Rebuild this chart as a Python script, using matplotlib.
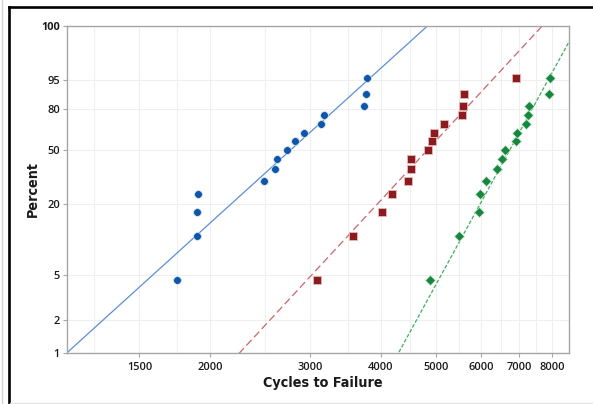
"""Weibull probability plot of cycles to failure for three groups."""

import numpy as np
import matplotlib

matplotlib.use("Agg")
from matplotlib import pyplot as plt  # noqa: E402
from matplotlib import ticker  # noqa: E402
from matplotlib.lines import Line2D  # noqa: E402

# plotting positions (percent) shared by the three groups of 15 specimens
percent = [4.5, 11.0, 17.5, 24.0, 30.5, 37.0, 43.5, 50.0,
           56.5, 63.0, 69.5, 76.0, 82.5, 89.0, 95.5]

cycles_a = [1750, 1898, 1898, 1903, 2485, 2605, 2620, 2728,
            2825, 2930, 3141, 3176, 3739, 3760, 3780]
cycles_b = [3090, 3567, 4023, 4179, 4458, 4524, 4524, 4841,
            4914, 4967, 5160, 5551, 5581, 5604, 6928]
cycles_c = [4881, 5498, 5964, 5981, 6128, 6396, 6549, 6629,
            6928, 6947, 7199, 7258, 7295, 7915, 7937]

# fitted Weibull parameters (shape, scale) for each group
fit_shape = [4.65, 5.54, 9.36]
fit_scale = [3000, 5160, 7015]

x_ticks = [1500, 2000, 3000, 4000, 5000, 6000, 7000, 8000]
x_minor = [1250, 1750, 2500, 3500, 4500, 5500, 6500, 7500]
y_ticks = [1, 2, 5, 20, 50, 80, 95, 99.99]
y_labels = ["1", "2", "5", "20", "50", "80", "95", "100"]

_MARKER_COLORS = ["#0d56a8", "#8c1b1f", "#16883c"]
_LINE_COLORS = ["#5b8fd6", "#c96663", "#3fae5c"]
_GRID_COLOR = "#efefef"
_SPINE_COLOR = "#a6a6a6"
_TICK_FONT = "Open Sans"
_LABEL_FONT = "DejaVu Sans"


def _weibull_fwd(p):
    p = np.clip(np.asarray(p, dtype=float), 1e-6, 100 - 1e-6)
    return np.log(-np.log(1 - p / 100.0))


def _weibull_inv(y):
    return 100.0 * (1 - np.exp(-np.exp(np.asarray(y, dtype=float))))


fig = plt.figure(figsize=(5.93, 4.04), dpi=100, facecolor="white")
ax = fig.add_axes([0.1125, 0.1255, 0.8476, 0.8109])
ax.set_xscale("log")
ax.set_yscale("function", functions=(_weibull_fwd, _weibull_inv))
ax.set_xlim(1117, 8592)
ax.set_ylim(1, 99.99)

# fitted lines
p_line = np.linspace(0.5, 99.995, 400)
styles = ["-", (0, (6, 3)), (0, (3, 1.5))]
for shape, scale, color, ls in zip(fit_shape, fit_scale, _LINE_COLORS, styles):
    x_line = scale * (-np.log(1 - p_line / 100.0)) ** (1.0 / shape)
    ax.plot(x_line, p_line, color=color, linewidth=0.9, linestyle=ls, zorder=2)

ax.plot(cycles_a, percent, linestyle="none", marker="o", markersize=5.6,
        color=_MARKER_COLORS[0], markeredgecolor="#dbe6f4", markeredgewidth=0.5, zorder=3)
ax.plot(cycles_b, percent, linestyle="none", marker="s", markersize=5.4,
        color=_MARKER_COLORS[1], markeredgecolor="#e6b9b9", markeredgewidth=0.6, zorder=3)
ax.plot(cycles_c, percent, linestyle="none", marker="D", markersize=5.0,
        color=_MARKER_COLORS[2], markeredgecolor="#c9e6d2", markeredgewidth=0.5, zorder=3)

ax.set_xticks(x_ticks)
ax.set_xticklabels([str(v) for v in x_ticks])
ax.set_xticks(x_minor, minor=True)
ax.xaxis.set_minor_formatter(ticker.NullFormatter())
ax.set_yticks(y_ticks)
ax.set_yticklabels(y_labels)
ax.yaxis.set_minor_locator(ticker.NullLocator())

ax.grid(True, which="both", color=_GRID_COLOR, linewidth=0.8)
ax.set_axisbelow(True)
ax.tick_params(axis="both", which="major", length=3, width=0.8, color=_SPINE_COLOR,
               labelsize=7.9, labelcolor="#1a1a1a", pad=2)
ax.tick_params(axis="x", which="minor", length=0)
ax.tick_params(axis="x", which="major", pad=3.5)
for lbl in ax.get_xticklabels() + ax.get_yticklabels():
    lbl.set_family(_TICK_FONT)
    lbl.set_fontweight("semibold")
ax.get_yticklabels()[-1].set_fontweight("bold")
for spine in ax.spines.values():
    spine.set_color(_SPINE_COLOR)
    spine.set_linewidth(1.0)

ax.set_xlabel("Cycles to Failure", family=_LABEL_FONT, fontstretch="condensed",
              fontweight="bold", fontsize=10.3, color="#1a1a1a")
ax.set_ylabel("Percent", family=_LABEL_FONT, fontstretch="condensed",
              fontweight="bold", fontsize=10.3, color="#1a1a1a")
ax.xaxis.set_label_coords(0.51, -0.091)
ax.xaxis.label.set_verticalalignment("center")
ax.yaxis.set_label_coords(-0.067, 0.5)
ax.yaxis.label.set_verticalalignment("center")

# outer frame
fig.add_artist(Line2D([8.5 / 593, 1], [1 - 7 / 404] * 2, color="black",
                      linewidth=1.9, transform=fig.transFigure))
fig.add_artist(Line2D([8.5 / 593] * 2, [0, 1 - 7 / 404], color="black",
                      linewidth=1.9, transform=fig.transFigure))
fig.add_artist(Line2D([1.5 / 593] * 2, [0, 1], color="#d4d4d4",
                      linewidth=1.0, transform=fig.transFigure))
fig.add_artist(Line2D([10 / 593, 1], [1.5 / 404] * 2, color="#e4e4e4",
                      linewidth=1.0, transform=fig.transFigure))

fig.savefig("out.png", dpi=100, facecolor="white")
plt.close(fig)
